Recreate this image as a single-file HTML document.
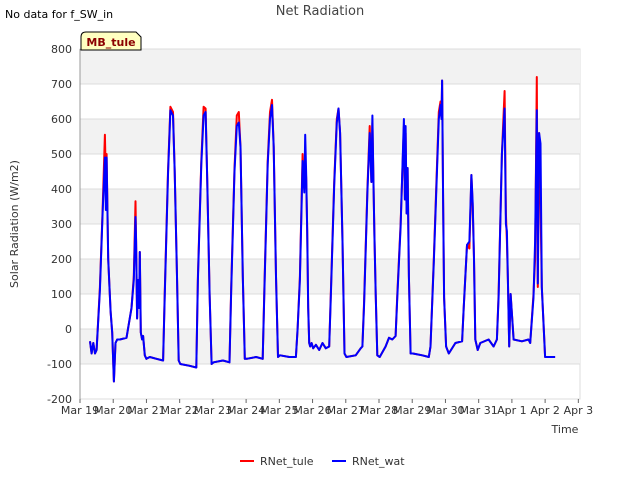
<!DOCTYPE html>
<html><head><meta charset="utf-8"><style>
body{margin:0;background:#fff;font-family:"Liberation Sans","DejaVu Sans",sans-serif}
svg text{font-family:"DejaVu Sans","Liberation Sans",sans-serif}
</style></head><body>
<svg id="chart" width="640" height="480" viewBox="0 0 640 480">
<text x="5" y="18" font-size="11" fill="#000">No data for f_SW_in</text>
<text x="320" y="15" font-size="13" fill="#444" text-anchor="middle">Net Radiation</text>
<g id="grid"></g>
<g id="axes"></g>
<g id="series"></g>
<g>
<path d="M81,50 L81,37 Q81,32 86,32 L136,32 L141,37 L141,50 Z" fill="#ffffc0" stroke="#000" stroke-width="1"/>
<text x="111" y="46" font-size="11" font-weight="bold" fill="#8b0000" text-anchor="middle">MB_tule</text>
</g>
<text x="565" y="433" font-size="11" fill="#333" text-anchor="middle">Time</text>
<text x="18" y="224" font-size="11" fill="#333" text-anchor="middle" transform="rotate(-90 18 224)">Solar Radiation (W/m2)</text>
<g>
<line x1="240" y1="461" x2="254" y2="461" stroke="red" stroke-width="2"/>
<text x="260" y="465" font-size="11" fill="#333">RNet_tule</text>
<line x1="332" y1="461" x2="346" y2="461" stroke="blue" stroke-width="2"/>
<text x="352" y="465" font-size="11" fill="#333">RNet_wat</text>
</g>
</svg>
<script>
const xTickLabels=["Mar 19","Mar 20","Mar 21","Mar 22","Mar 23","Mar 24","Mar 25","Mar 26","Mar 27","Mar 28","Mar 29","Mar 30","Mar 31","Apr 1","Apr 2","Apr 3"];
const yTicks=[-200,-100,0,100,200,300,400,500,600,700,800];
const times=[
0.3,0.35,0.4,0.45,0.5,0.6,0.68,0.75,0.78,0.8,0.85,0.92,0.97,1.02,1.07,1.12,
1.2,1.4,1.55,1.62,1.67,1.69,1.72,1.75,1.78,1.8,1.83,1.87,1.9,1.95,2.0,2.1,2.3,2.5,
2.55,2.65,2.72,2.8,2.85,2.92,2.97,3.02,3.3,3.5,
3.55,3.65,3.72,3.78,3.83,3.9,3.96,4.02,4.3,4.5,
4.55,4.65,4.72,4.78,4.83,4.9,4.96,5.02,5.3,5.5,
5.55,5.65,5.72,5.78,5.83,5.9,5.96,6.02,6.3,6.5,
6.55,6.62,6.7,6.75,6.78,6.81,6.84,6.87,6.9,6.93,6.97,7.02,7.1,7.2,7.3,7.4,7.5,
7.55,7.65,7.73,7.78,7.83,7.9,7.96,8.02,8.3,8.45,8.5,
8.55,8.65,8.72,8.77,8.8,8.83,8.86,8.9,8.95,9.02,9.2,9.3,9.4,9.5,
9.55,9.65,9.75,9.78,9.8,9.83,9.86,9.9,9.95,10.02,10.3,10.5,
10.55,10.65,10.8,10.85,10.88,10.9,10.93,10.96,11.02,11.1,11.3,11.5,
11.55,11.65,11.72,11.78,11.82,11.86,11.9,11.97,12.05,12.3,12.45,12.55,
12.6,12.7,12.78,12.82,12.85,12.88,12.92,12.96,13.05,13.3,13.5,
13.55,13.65,13.7,13.75,13.78,13.82,13.86,13.9,14.0,14.05,14.3];
const tuleValues=[
-35,-70,-40,-70,-60,120,340,555,420,500,200,50,-10,-150,-40,-30,
-30,-25,60,150,365,250,30,140,60,220,-10,-30,-20,-75,-85,-80,-85,-90,
100,450,635,620,450,150,-90,-100,-105,-110,
150,480,635,630,430,100,-100,-95,-90,-95,
120,460,610,620,520,150,-85,-85,-80,-85,
120,480,620,655,520,150,-80,-75,-80,-80,
0,150,500,400,480,430,280,60,-40,-50,-40,-55,-45,-60,-40,-55,-50,
100,420,600,630,560,250,-70,-80,-75,-55,-50,
80,400,580,420,590,430,270,100,-75,-80,-50,-25,-30,-20,
100,300,580,370,560,330,460,150,-70,-70,-75,-80,
-50,200,620,650,600,710,370,90,-50,-70,-40,-35,
60,240,230,440,350,200,-30,-60,-40,-30,-50,-30,
100,500,680,330,250,140,-50,100,-30,-35,-30,
-40,100,200,720,120,560,360,120,-80,-80,-80];
const watValues=[
-35,-70,-40,-70,-60,110,330,490,340,490,200,50,-10,-150,-40,-30,
-30,-25,60,140,320,250,30,140,60,220,-10,-30,-20,-75,-85,-80,-85,-90,
90,440,625,610,450,150,-90,-100,-105,-110,
140,470,610,620,430,100,-100,-95,-90,-95,
110,450,580,590,520,150,-85,-85,-80,-85,
110,470,600,640,520,150,-80,-75,-80,-80,
0,140,480,390,555,440,280,60,-40,-50,-40,-55,-45,-60,-40,-55,-50,
90,410,590,630,560,250,-70,-80,-75,-55,-50,
70,390,560,420,610,430,270,100,-75,-80,-50,-25,-30,-20,
90,290,600,370,580,330,460,150,-70,-70,-75,-80,
-50,190,600,640,600,710,370,90,-50,-70,-40,-35,
60,240,250,440,360,200,-30,-60,-40,-30,-50,-30,
90,500,630,300,280,140,-50,100,-30,-35,-30,
-40,90,250,625,130,560,530,120,-80,-80,-80];
const NS="http://www.w3.org/2000/svg";
const L=80,R=580,T=49,B=399;
const xs=t=>L+t*(R-L)/15.05;
const ys=v=>B-(v+200)*(B-T)/1000;
const grid=document.getElementById('grid'),axes=document.getElementById('axes'),series=document.getElementById('series');
function mk(tag,attrs,parent){const e=document.createElementNS(NS,tag);for(const k in attrs)e.setAttribute(k,attrs[k]);parent.appendChild(e);return e;}
mk('rect',{x:L,y:T,width:R-L,height:B-T,fill:'#fff',stroke:'#ddd'},grid);
for(let i=0;i<yTicks.length-1;i++){
  if(i%2===1){const b=mk('rect',{x:L,y:ys(yTicks[i+1]),width:R-L,height:ys(yTicks[i])-ys(yTicks[i+1]),fill:'#f2f2f2'},grid);
  
  }
}
yTicks.forEach(v=>{
  const g=mk('line',{x1:L,x2:R,y1:ys(v),y2:ys(v),stroke:'#dcdcdc'},grid);
  
  
  const t=mk('text',{x:L-8,y:ys(v)+4,'font-size':11,fill:'#333','text-anchor':'end'},axes);
  t.textContent=v;
  
  
});
xTickLabels.forEach((s,i)=>{
  const x=xs(i);
  mk('line',{x1:x,x2:x,y1:B,y2:B+4,stroke:'#666'},axes);
  const t=mk('text',{x:x,y:B+15,'font-size':11,fill:'#333','text-anchor':'middle'},axes);
  t.textContent=s;
  
  
});
mk('line',{x1:L,x2:L,y1:T,y2:B,stroke:'#999'},axes);
function line(vals,color,name){
  const n=Math.min(times.length,vals.length);
  const pts=[];
  for(let i=0;i<n;i++)pts.push(xs(times[i]).toFixed(1)+','+ys(vals[i]).toFixed(1));
  const p=mk('polyline',{points:pts.join(' '),fill:'none',stroke:color,'stroke-width':2,'stroke-linejoin':'round'},series);
  
  
}
line(tuleValues,'red','rnet-tule-line');
line(watValues,'blue','rnet-wat-line');
</script>
</body></html>
